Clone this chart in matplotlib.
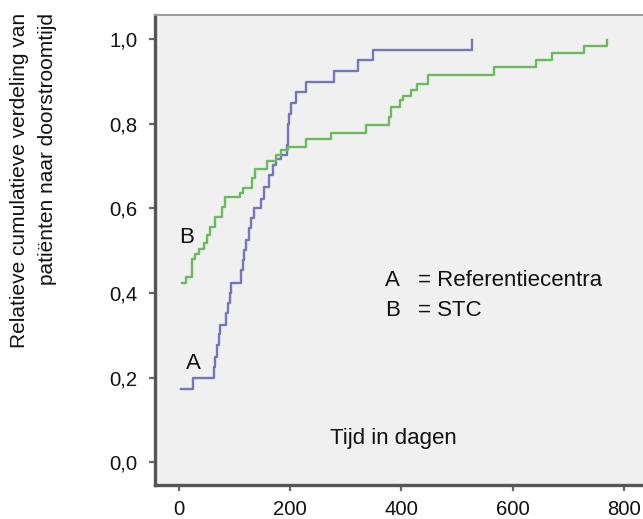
import matplotlib
matplotlib.use("Agg")
import matplotlib.pyplot as plt

plt.rcParams['font.family'] = ['Liberation Sans', 'DejaVu Sans']

# Data: step positions (days) and cumulative fraction
a_days = [3, 25, 62, 65, 68, 71, 74, 84, 88, 91, 94, 112, 114, 117, 120, 126, 130,
          135, 147, 153, 162, 168, 174, 183, 194, 195, 196, 197, 201, 210, 228, 279,
          322, 349, 527]
a_frac = [0.174, 0.199, 0.225, 0.249, 0.276, 0.302, 0.324, 0.352, 0.376, 0.399, 0.424,
          0.454, 0.478, 0.502, 0.525, 0.553, 0.577, 0.600, 0.623, 0.651, 0.678, 0.702,
          0.717, 0.726, 0.750, 0.780, 0.800, 0.824, 0.848, 0.875, 0.899, 0.925, 0.950,
          0.975, 0.997]

b_days = [5, 13, 23, 29, 35, 44, 50, 56, 65, 77, 83, 110, 115, 131, 137, 158, 174, 183,
          195, 228, 273, 337, 378, 382, 397, 403, 418, 427, 448, 567, 642, 670, 729, 769]
b_frac = [0.424, 0.438, 0.481, 0.493, 0.505, 0.517, 0.537, 0.556, 0.580, 0.603, 0.626,
          0.637, 0.647, 0.672, 0.694, 0.713, 0.726, 0.737, 0.745, 0.765, 0.779, 0.796,
          0.815, 0.840, 0.856, 0.865, 0.879, 0.895, 0.915, 0.935, 0.950, 0.968, 0.984,
          0.999]

x_ticks = [0, 200, 400, 600, 800]
x_tick_labels = ['0', '200', '400', '600', '800']
y_ticks = [0.0, 0.2, 0.4, 0.6, 0.8, 1.0]
y_tick_labels = ['0,0', '0,2', '0,4', '0,6', '0,8', '1,0']

y_label = "Relatieve cumulatieve verdeling van\npatiënten naar doorstroomtijd"
x_text = "Tijd in dagen"
legend_lines = [("A", "= Referentiecentra"), ("B", "= STC")]

W, H = 643, 519
fig = plt.figure(figsize=(W / 100, H / 100), dpi=100)
ax = fig.add_axes([155 / W, (H - 485) / H, 1 - 155 / W + 0.01, (485 - 15) / H])
ax.set_facecolor('#f0f0f0')

blue = '#7378bb'
green = '#6cb95e'
ax.step(a_days, a_frac, where='post', color=blue, lw=1.7)
ax.step(b_days, b_frac, where='post', color=green, lw=1.7)

ax.set_xlim(-43.4, 846)
ax.set_ylim(-0.054, 1.057)

ax.set_xticks(x_ticks)
ax.set_xticklabels(x_tick_labels)
ax.set_yticks(y_ticks)
ax.set_yticklabels(y_tick_labels)
ax.tick_params(axis='both', direction='out', length=4.5, width=1.6, color='#666666',
               labelsize=14.6, labelcolor='#111111')
ax.tick_params(axis='y', pad=8)
ax.tick_params(axis='x', pad=6)

for s in ['left', 'bottom']:
    ax.spines[s].set_color('#555555')
    ax.spines[s].set_linewidth(2.4)
ax.spines['top'].set_color('#9a9a9a')
ax.spines['top'].set_linewidth(1.4)
ax.spines['right'].set_visible(False)

# Curve labels
ax.text(13, 0.53, "B", fontsize=16, ha='center', va='center', color='#111111')
ax.text(25, 0.234, "A", fontsize=16, ha='center', va='center', color='#111111')

# Legend text
for i, (k, v) in enumerate(legend_lines):
    yy = 0.430 - i * 0.071
    ax.text(370, yy, k, fontsize=16, ha='left', va='center', color='#111111')
    ax.text(429, yy, v, fontsize=16, ha='left', va='center', color='#111111')

ax.text(385, 0.057, x_text, fontsize=16, ha='center', va='center', color='#111111')

fig.text(33.5 / W, 1 - 13 / H, y_label, rotation=90, ha='center', va='top',
         multialignment='right', fontsize=15, linespacing=1.55, color='#111111')

fig.savefig('out.png', dpi=100)
